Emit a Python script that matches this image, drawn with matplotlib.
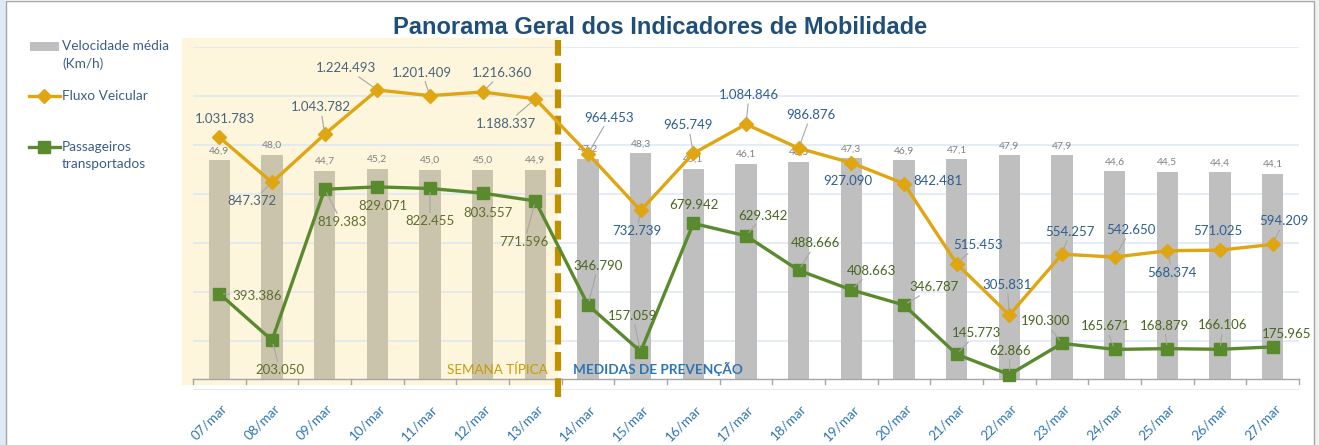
import numpy as np
import matplotlib
matplotlib.use('Agg')
import matplotlib.pyplot as plt
from matplotlib.patches import Rectangle
from matplotlib.lines import Line2D
import matplotlib.transforms as mtransforms

# ---------------- data ----------------
dates = ['07/mar', '08/mar', '09/mar', '10/mar', '11/mar', '12/mar', '13/mar',
         '14/mar', '15/mar', '16/mar', '17/mar', '18/mar', '19/mar', '20/mar',
         '21/mar', '22/mar', '23/mar', '24/mar', '25/mar', '26/mar', '27/mar']
velocidade = [46.9, 48.0, 44.7, 45.2, 45.0, 45.0, 44.9,
              47.2, 48.3, 45.1, 46.1, 46.5, 47.3, 46.9,
              47.1, 47.9, 47.9, 44.6, 44.5, 44.4, 44.1]
fluxo = [1031783, 847372, 1043782, 1224493, 1201409, 1216360, 1188337,
         964453, 732739, 965749, 1084846, 986876, 927090, 842481,
         515453, 305831, 554257, 542650, 568374, 571025, 594209]
passageiros = [393386, 203050, 819383, 829071, 822455, 803557, 771596,
               346790, 157059, 679942, 629342, 488666, 408663, 346787,
               145773, 62866, 190300, 165671, 168879, 166106, 175965]
n_typical = 7  # first days = "semana típica"

# label offsets (pixels, right / up) -- layout only
fluxo_off = [(6, 18), (-20, -19), (-4, 27), (-31, 22), (-8, 23), (19, 19), (-29, -25),
             (21, 36), (-4, -21), (-5, 28), (3, 29), (12, 33), (-4, -18), (34, 3),
             (21, 19), (-2, 30), (8, 22), (16, 27), (5, -22), (-2, 19), (11, 23)]
pass_off = [(38, -2), (8, -30), (17, -33), (6, -19), (0, -33), (5, -20), (-11, -41),
            (10, 39), (-8, 36), (1, 18), (17, 20), (17, 27), (20, 19), (30, 18),
            (20, 21), (1, 24), (-17, 22), (-9, 23), (-3, 23), (3, 24), (14, 13)]

# ---------------- style ----------------
W, H = 1319, 445
FONT = ['Lato', 'DejaVu Sans']
plt.rcParams['font.family'] = FONT
GOLD = '#DFA612'
GREEN = '#5A8A2E'
CREAM = '#FEF5DD'
GRID = '#DCE7F3'
DASH = '#BF9000'

fig = plt.figure(figsize=(W / 100, H / 100), dpi=100)
fig.patch.set_facecolor('white')

def fx(x):
    return x / W

def fy(y):
    return 1 - y / H

# outer frame
fig.patches.append(Rectangle((0, 0), fx(6), 1, transform=fig.transFigure,
                             facecolor='#DDEBF7', edgecolor='none', zorder=0))
fig.patches.append(Rectangle((fx(1314), 0), 1 - fx(1314), 1, transform=fig.transFigure,
                             facecolor='#F2F2F2', edgecolor='none', zorder=0))
fig.patches.append(Rectangle((fx(6), fy(446)), fx(1314) - fx(6), fy(1) - fy(446),
                             transform=fig.transFigure, facecolor='none',
                             edgecolor='#A6A6A6', lw=1, zorder=0))

left, right, top, bottom = 193, 1299, 47, 390
ax = fig.add_axes([fx(left), fy(bottom), fx(right) - fx(left), (bottom - top) / H])
ax.set_facecolor('none')
ax2 = ax.twinx()

x = np.arange(len(dates))
n = len(dates)
vmax = 70.0
fmax = 1_400_000
ax.set_xlim(-0.5, n - 0.5)
ax.set_ylim(0, vmax)
ax2.set_ylim(0, fmax)

# gridlines
ax.set_yticks(np.linspace(0, vmax, 8))
ax.yaxis.grid(True, color=GRID, lw=1.1)
ax.set_axisbelow(True)
ax.tick_params(axis='y', left=False, labelleft=False)
ax2.set_yticks([])
for a in (ax, ax2):
    for s in a.spines.values():
        s.set_visible(False)

# cream shaded area "semana típica" and dashed divider
dash_x = n_typical - 0.57
cream_left = -0.71
blend = mtransforms.blended_transform_factory(ax.transData, ax.transAxes)
ax.add_patch(Rectangle((cream_left, 0.0146), dash_x - cream_left, 1.026 - 0.0146,
                       transform=blend, facecolor=CREAM, edgecolor='none',
                       zorder=-5, clip_on=False))

# category axis crossing level
cross_frac = (bottom - 379) / (bottom - top)
cross = cross_frac * vmax

bar_colors = ['#CBC4AD' if i < n_typical else '#BFBFBF' for i in range(n)]
ax.bar(x, np.array(velocidade) - cross, bottom=cross, width=0.4,
       color=bar_colors, zorder=2)
for i, v in enumerate(velocidade):
    ax.annotate(f"{v:.1f}".replace('.', ','), (x[i], v), xytext=(0, 5),
                textcoords='offset pixels', ha='center', va='bottom',
                fontsize=7.5, color='#808080', zorder=3)

# axis line + tick marks
ax.plot([-0.5, n - 0.5], [cross_frac, cross_frac], transform=blend,
        color='#A6A6A6', lw=1, zorder=3, clip_on=False)
tick_len = 5 / (bottom - top)
for b in np.arange(-0.5, n, 1.0):
    ax.plot([b, b], [cross_frac, cross_frac - tick_len], transform=blend,
            color='#A6A6A6', lw=1, zorder=3, clip_on=False)

ax.axvline(dash_x, ymin=-0.02, ymax=1.02, color=DASH, lw=4.5,
           linestyle=(0, (3.0, 1.2)), zorder=4, clip_on=False)

ax.text(n_typical - 0.76, 0.058, 'SEMANA TÍPICA', transform=blend, ha='right',
        va='center', fontsize=9.6, color='#C99A06', zorder=5)
ax.text(n_typical - 0.28, 0.061, 'MEDIDAS DE PREVENÇÃO', transform=blend, ha='left',
        va='center', fontsize=9.8, color='#2E75B6', fontweight='bold', zorder=5)

# x tick labels
ax.set_xticks(x)
ax.set_xticklabels(dates, rotation=45, ha='right', rotation_mode='anchor',
                   color='#2E75B6', fontsize=9.7)
ax.tick_params(axis='x', length=0, pad=9)
offset = mtransforms.ScaledTranslation(1.5 / 100, 0, fig.dpi_scale_trans)
for lab in ax.get_xticklabels():
    lab.set_transform(lab.get_transform() + offset)

# lines
ax2.plot(x, fluxo, color=GOLD, lw=2.4, marker='D', markersize=7,
         markerfacecolor=GOLD, markeredgecolor=GOLD, zorder=5)
ax2.plot(x, passageiros, color=GREEN, lw=2.4, marker='s', markersize=8.5,
         markerfacecolor=GREEN, markeredgecolor=GREEN, zorder=5)

def fmt(v):
    return f"{v:,}".replace(',', '.')

def label(vals, offs, colors):
    for i, v in enumerate(vals):
        dx, dy = offs[i]
        arrow = None
        if np.hypot(dx, dy) > 21:
            arrow = dict(arrowstyle='-', color='#A6A6A6', lw=0.8,
                         shrinkA=0, shrinkB=3)
        ax2.annotate(fmt(v), (x[i], v), xytext=(dx, dy), textcoords='offset pixels',
                     ha='center', va='center', fontsize=9.5,
                     color=colors[0] if i < n_typical else colors[1],
                     arrowprops=arrow, zorder=6)

label(fluxo, fluxo_off, ('#4A6479', '#2D5E91'))
label(passageiros, pass_off, ('#5E6E2E', '#46661F'))

# title
fig.text(fx(660), fy(27), 'Panorama Geral dos Indicadores de Mobilidade',
         ha='center', va='center', fontsize=17, fontweight='bold',
         color='#1F4E79', family=['Liberation Sans', 'DejaVu Sans'])

# legend (manual)
LEG = '#3B5E86'
LFS = 9.8
fig.patches.append(Rectangle((fx(30), fy(51)), fx(59) - fx(30), fy(42) - fy(51),
                             transform=fig.transFigure, facecolor='#BFBFBF',
                             edgecolor='none'))
fig.text(fx(62), fy(46), 'Velocidade média', ha='left', va='center', fontsize=LFS, color=LEG)
fig.text(fx(62), fy(64), '(Km/h)', ha='left', va='center', fontsize=LFS, color=LEG)
fig.lines.append(Line2D([fx(29), fx(60)], [fy(96), fy(96)], transform=fig.transFigure,
                        color=GOLD, lw=2.4))
fig.lines.append(Line2D([fx(44)], [fy(96)], transform=fig.transFigure, color=GOLD,
                        marker='D', markersize=7))
fig.text(fx(62), fy(96), 'Fluxo Veicular', ha='left', va='center', fontsize=LFS, color=LEG)
fig.lines.append(Line2D([fx(29), fx(60)], [fy(147), fy(147)], transform=fig.transFigure,
                        color=GREEN, lw=2.4))
fig.lines.append(Line2D([fx(44)], [fy(147)], transform=fig.transFigure, color=GREEN,
                        marker='s', markersize=8.5))
fig.text(fx(62), fy(147), 'Passageiros', ha='left', va='center', fontsize=LFS, color=LEG)
fig.text(fx(62), fy(164), 'transportados', ha='left', va='center', fontsize=LFS, color=LEG)

fig.savefig('out.png', dpi=100, facecolor=fig.get_facecolor())
